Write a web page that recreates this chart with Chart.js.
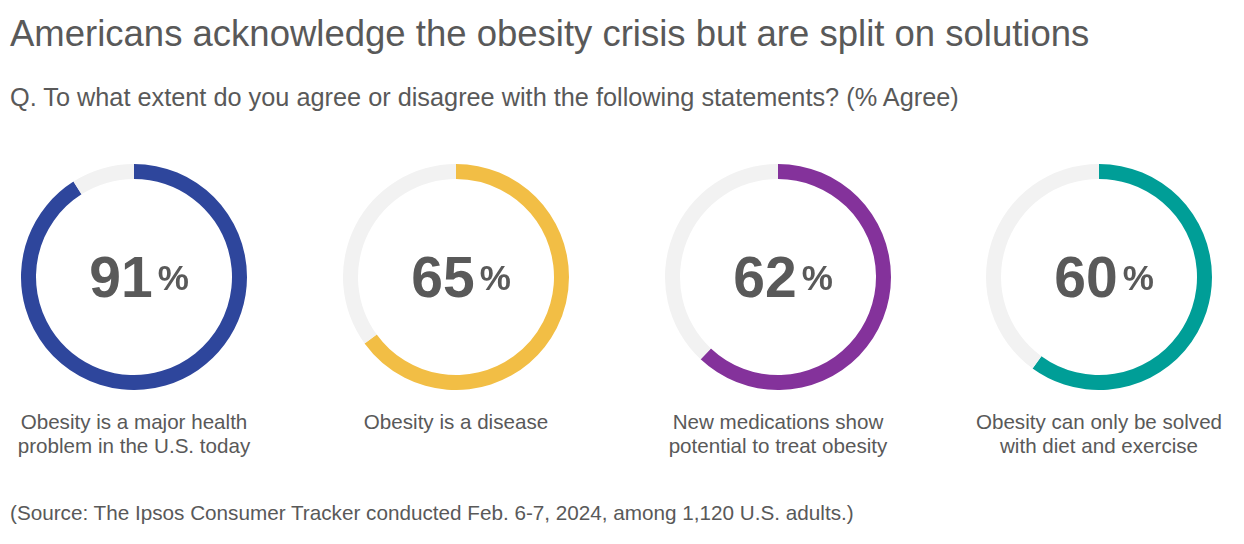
<!DOCTYPE html>
<html>
<head>
<meta charset="utf-8">
<script src="https://cdn.jsdelivr.net/npm/chart.js@4.4.1/dist/chart.umd.min.js"></script>
<style>
    body { margin: 0; background: #fff; font-family: "Liberation Sans", Arial, sans-serif; color: #595959; }
    #wrap { position: relative; width: 1244px; height: 544px; overflow: hidden; }
    .title { position: absolute; left: 10px; top: 13px; font-size: 36.5px; white-space: nowrap; }
    .subtitle { position: absolute; left: 10px; top: 83px; font-size: 25.3px; white-space: nowrap; }
    .donut { position: absolute; top: 164px; width: 226px; height: 226px; }
    .donut canvas { position: absolute; left: 0; top: 0; }
    .center { position: absolute; left: 0; top: 0; width: 226px; height: 226px; display: flex;
              align-items: center; justify-content: center; font-weight: bold; padding-left: 10px; box-sizing: border-box; }
    .num { font-size: 57px; line-height: 1; }
    .pct { font-size: 35px; line-height: 1; margin-left: 5px; }
    .label { position: absolute; top: 410px; width: 300px; text-align: center; font-size: 20.6px; line-height: 24px; }
    .source { position: absolute; left: 10px; top: 501px; font-size: 20.7px; white-space: nowrap; }
</style>
</head>
<body>
<div id="wrap">
    <div class="title">Americans acknowledge the obesity crisis but are split on solutions</div>
    <div class="subtitle">Q. To what extent do you agree or disagree with the following statements? (% Agree)</div>
    <div class="source">(Source: The Ipsos Consumer Tracker conducted Feb. 6-7, 2024, among 1,120 U.S. adults.)</div>
</div>
<script>
const statements = [
    ['Obesity is a major health', 'problem in the U.S. today'],
    ['Obesity is a disease'],
    ['New medications show', 'potential to treat obesity'],
    ['Obesity can only be solved', 'with diet and exercise']
];
const agreeValues = [91, 65, 62, 60];
const ringColors = ['#2E469C', '#F2BE45', '#84329B', '#009E97'];
const centersX = [134, 456, 778, 1099];

const wrap = document.getElementById('wrap');

statements.forEach((lines, i) => {
    const box = document.createElement('div');
    box.className = 'donut';
    box.style.left = (centersX[i] - 113) + 'px';
    const canvas = document.createElement('canvas');
    canvas.width = 226;
    canvas.height = 226;
    box.appendChild(canvas);

    const center = document.createElement('div');
    center.className = 'center';
    center.innerHTML = `<span class="num">${agreeValues[i]}</span><span class="pct">%</span>`;
    box.appendChild(center);
    wrap.appendChild(box);

    const label = document.createElement('div');
    label.className = 'label';
    label.style.left = (centersX[i] - 150) + 'px';
    label.innerHTML = lines.join('<br>');
    wrap.appendChild(label);

    new Chart(canvas.getContext('2d'), {
        type: 'doughnut',
        data: {
            labels: ['Agree', 'Other'],
            datasets: [{
                data: [agreeValues[i], 100 - agreeValues[i]],
                backgroundColor: [ringColors[i], '#F2F2F2'],
                borderWidth: 0
            }]
        },
        options: {
            responsive: false,
            animation: false,
            cutout: 98,
            rotation: 0,
            layout: { padding: 0 },
            plugins: { legend: { display: false }, tooltip: { enabled: false } }
        }
    });
});
</script>
</body>
</html>
